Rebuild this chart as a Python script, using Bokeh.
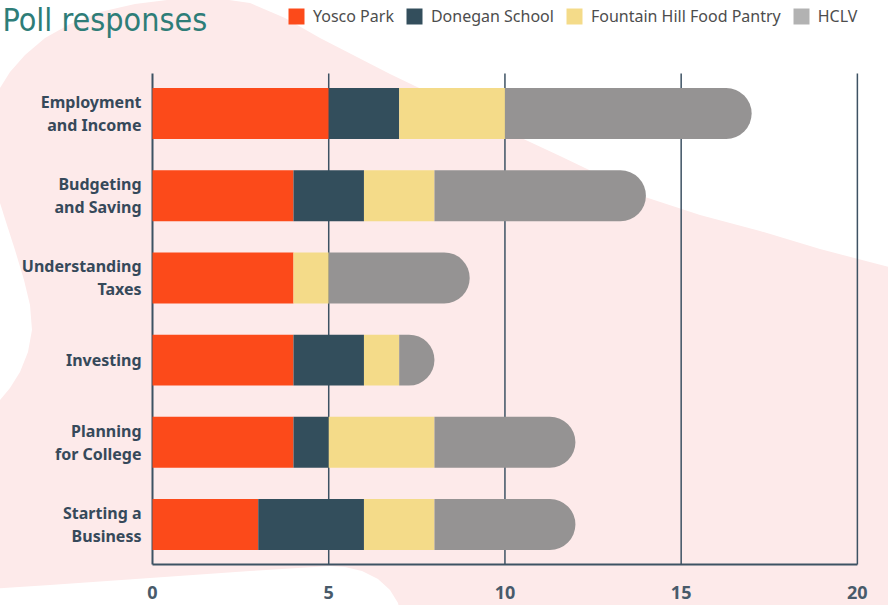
import urllib.parse
import numpy as np
from bokeh.plotting import figure
from bokeh.models import (ColumnDataSource, Range1d, FixedTicker, Legend, LegendItem, Label)
from bokeh.core.properties import value
from bokeh.embed import file_html
from bokeh.resources import INLINE

# ---------------- data ----------------
categories = ["Employment\nand Income", "Budgeting\nand Saving", "Understanding\nTaxes",
              "Investing", "Planning\nfor College", "Starting a\nBusiness"]
series_names = ["Yosco Park", "Donegan School", "Fountain Hill Food Pantry", "HCLV"]
yosco_park = [5, 4, 4, 4, 4, 3]
donegan_school = [2, 2, 0, 2, 1, 3]
fountain_hill = [3, 2, 1, 1, 3, 2]
hclv = [7, 6, 4, 1, 4, 4]
x_ticks = [0, 5, 10, 15, 20]
x_tick_labels = ["0", "5", "10", "15", "20"]
title_text = "Poll responses"

# ---------------- styles ----------------
bar_colors = ["#fc4a1a", "#334e5c", "#f4db89", "#959393"]
legend_colors = ["#fc4a1a", "#334e5c", "#f4db89", "#b2b2b2"]
ink = "#36495a"
tick_ink = "#485a6a"
line_ink = "#3d5263"
pink = "#fdeaea"
W, H = 888, 605
FONT = "Noto Sans"

# decorative background blob (canvas pixel coordinates)
blob = [(-10, 95), (0, 88), (10, 72), (25, 55), (45, 38), (70, 24), (100, 12), (135, 4),
        (175, -1), (215, -2), (250, 3), (285, 18), (320, 38), (355, 56), (390, 74),
        (440, 98), (500, 128), (560, 156), (610, 180), (645, 197), (700, 215),
        (760, 231), (820, 249), (900, 270), (900, 620), (402, 620), (398, 603),
        (390, 590), (378, 579), (362, 571), (345, 567), (330, 566), (250, 571),
        (150, 578), (50, 585), (-10, 589), (-10, 402), (0, 400), (10, 388), (20, 372),
        (28, 352), (32, 330), (30, 305), (24, 280), (15, 250), (6, 222), (0, 203),
        (-10, 200)]
path = "M " + " L ".join(f"{x},{y}" for x, y in blob) + " Z"
svg_bg = (f'<svg xmlns="http://www.w3.org/2000/svg" width="{W}" height="{H}">'
          f'<path d="{path}" fill="{pink}"/></svg>')
bg_url = "data:image/svg+xml;utf8," + urllib.parse.quote(svg_bg)

n = len(categories)
rows = [n - 1 - i for i in range(n)]          # first category on top
half = 0.487                                  # half of a row band
x_lo, x_hi = -4.3127, 20.06                   # frame spans the label column too
y_lo, y_hi = -0.511, 6.375                    # frame spans the full height above the x labels

p = figure(width=W, height=H, output_backend="svg", toolbar_location=None,
           x_range=Range1d(x_lo, x_hi), y_range=Range1d(y_lo, y_hi),
           y_axis_location=None,
           min_border_left=0, min_border_right=29, min_border_top=0,
           min_border_bottom=39,
           styles={"background-image": f'url("{bg_url}")',
                   "background-repeat": "no-repeat"})
p.border_fill_color = None
p.background_fill_color = None
p.outline_line_color = None
p.xgrid.grid_line_color = None
p.ygrid.grid_line_color = None

# vertical grid lines (the one at 0 is the axis line)
band_top = rows[0] + half
band_bot = rows[-1] - half
p.segment(x0=x_ticks, x1=x_ticks, y0=[band_bot] * len(x_ticks), y1=[band_top] * len(x_ticks),
          line_color=line_ink, line_width=[2] + [1.5] * (len(x_ticks) - 1))
# bottom axis line
p.segment(x0=[x_ticks[0]], x1=[x_ticks[-1]], y0=[band_bot], y1=[band_bot],
          line_color=line_ink, line_width=2)

# stacked bars
series = [yosco_park, donegan_school, fountain_hill, hclv]
left = np.zeros(n)
for i, vals in enumerate(series):
    vals = np.array(vals, dtype=float)
    src = ColumnDataSource(dict(y=rows, left=left.copy(), right=left + vals))
    kw = {}
    if i == len(series) - 1:
        kw["border_radius"] = (0, 26, 26, 0)
    p.hbar(y="y", left="left", right="right", height=0.62, source=src,
           fill_color=bar_colors[i], line_color=None, **kw)
    left = left + vals

# category labels
p.text(x=[x_ticks[0]] * n, y=rows, text=categories, x_offset=-11,
       text_align="right", text_baseline="middle", text_font=value(FONT),
       text_font_style="bold", text_font_size="16px", text_color=ink,
       text_line_height=1.05)

# x axis (labels only)
ax = p.xaxis[0]
ax.axis_line_color = None
ax.major_tick_line_color = None
ax.minor_tick_line_color = None
ax.ticker = FixedTicker(ticks=x_ticks)
ax.major_label_overrides = {t: l for t, l in zip(x_ticks, x_tick_labels)}
ax.major_label_standoff = 13
ax.major_label_text_font = FONT
ax.major_label_text_font_style = "bold"
ax.major_label_text_font_size = "18px"
ax.major_label_text_color = tick_ink

# legend (swatch renderers carry zero-width bars)
items = []
for name, col in zip(series_names, legend_colors):
    r = p.hbar(y=[rows[0]], left=[0], right=[0], height=0.5, fill_color=col,
               line_color=None)
    items.append(LegendItem(label=name, renderers=[r]))
legend = Legend(items=items, orientation="horizontal", location=(286, 539),
                glyph_width=20, glyph_height=20, label_standoff=7, spacing=10,
                padding=0, margin=0, border_line_alpha=0, background_fill_alpha=0,
                label_text_font=FONT, label_text_font_size="16px",
                label_text_color="#4d4d4d", label_height=16)
p.add_layout(legend, "center")

# title
px_y = (y_hi - y_lo) / 566.0
px_x = (x_hi - x_lo) / 859.0
title = Label(x=x_lo + 2 * px_x, y=y_hi - 19 * px_y, text=title_text,
              text_font="'Liberation Sans Narrow', 'DejaVu Sans Condensed', sans-serif",
              text_font_size="32px", text_color="#2e7d78", text_baseline="alphabetic")
p.add_layout(title)

open("out.html", "w").write(file_html(p, INLINE))
